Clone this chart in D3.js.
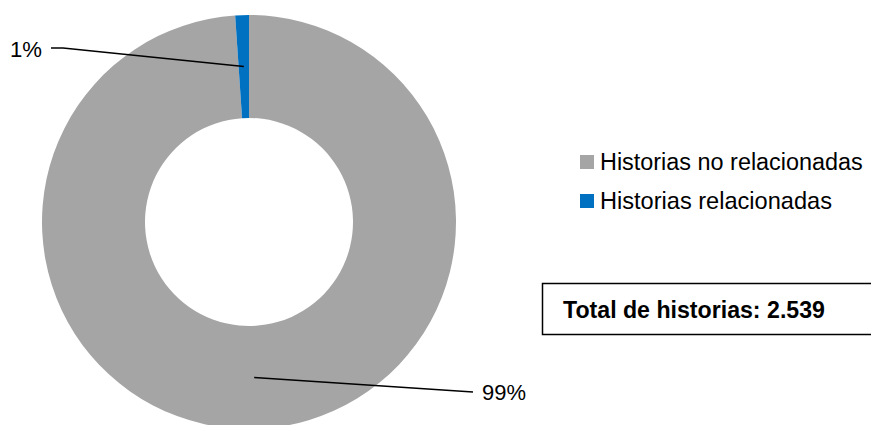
<!DOCTYPE html>
<html><head><meta charset="utf-8">
<script src="https://cdn.jsdelivr.net/npm/d3@7"></script>
<style>body{margin:0;background:#fff;overflow:hidden}</style>
</head><body>
<svg id="c" width="871" height="425"></svg>
<script>
const categories = ["Historias no relacionadas", "Historias relacionadas"];
const values = [2512, 27];
const colors = ["#A5A5A5", "#0070C0"];
const totalLabel = "Total de historias: 2.539";

const font = "'Liberation Sans', Arial, sans-serif";
const svg = d3.select("#c");
const cx = 249, cy = 222, rOuter = 207, rInner = 104;
const g = svg.append("g").attr("transform", `translate(${cx},${cy})`);
const pie = d3.pie().sort(null).value(d => d)(values);
const arc = d3.arc().innerRadius(rInner).outerRadius(rOuter);
const total = d3.sum(values);

function fitText(sel, width) {
  const n = sel.node();
  const fs = parseFloat(sel.attr("font-size"));
  const w = n.getComputedTextLength();
  sel.attr("font-size", (fs * width / w).toFixed(2));
}

g.selectAll("path").data(pie).join("path")
  .attr("d", arc).attr("fill", (d, i) => colors[i]);

// label positions (layout)
const labelPos = [
  {bend: null, end: [473 - cx, 392 - cy], tx: 482 - cx, ty: 392 - cy, anchor: "start", w: 44},
  {bend: [63 - cx, 48 - cy], end: [51 - cx, 48 - cy], tx: 42 - cx, ty: 49 - cy, anchor: "end", w: 32}
];
pie.forEach((d, i) => {
  const c = arc.centroid(d);
  const lp = labelPos[i];
  const pts = [c];
  if (lp.bend) pts.push(lp.bend);
  pts.push(lp.end);
  g.append("path").attr("d", d3.line()(pts)).attr("fill", "none")
    .attr("stroke", "#000").attr("stroke-width", 1.5);
  const t = g.append("text").attr("x", lp.tx).attr("y", lp.ty).attr("dy", "0.35em")
    .attr("text-anchor", lp.anchor).attr("font-family", font).attr("font-size", 20)
    .attr("fill", "#000")
    .text(Math.round(d.data / total * 100) + "%");
  fitText(t, lp.w);
});

// legend
const legendY = [162, 201];
const legendW = [263, 232];
categories.forEach((name, i) => {
  svg.append("rect").attr("x", 580).attr("y", legendY[i] - 7).attr("width", 14).attr("height", 14)
    .attr("fill", colors[i]);
  const t = svg.append("text").attr("x", 600).attr("y", legendY[i]).attr("dy", "0.35em")
    .attr("font-family", font).attr("font-size", 20).attr("fill", "#000").text(name);
  fitText(t, legendW[i]);
});

// total box
svg.append("rect").attr("x", 542.5).attr("y", 283.5).attr("width", 340).attr("height", 51)
  .attr("fill", "#fff").attr("stroke", "#000").attr("stroke-width", 1.5);
const tt = svg.append("text").attr("x", 563).attr("y", 310).attr("dy", "0.35em")
  .attr("font-family", font).attr("font-weight", "bold").attr("font-size", 20)
  .attr("fill", "#000").text(totalLabel);
fitText(tt, 262);
</script>
</body></html>
